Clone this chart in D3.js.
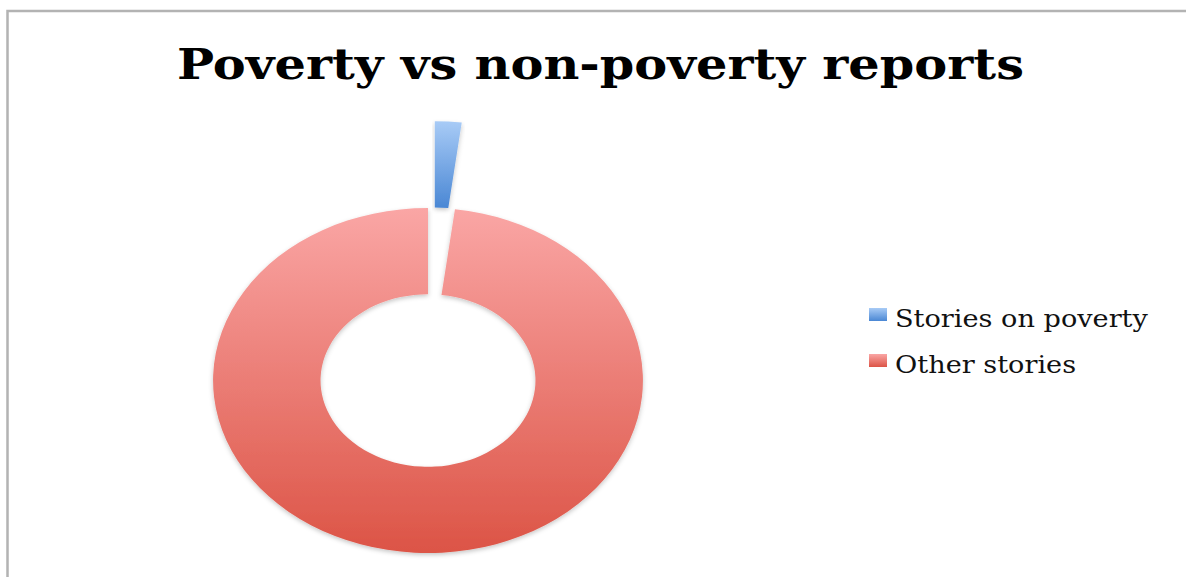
<!DOCTYPE html>
<html>
<head>
<meta charset="utf-8">
<script src="https://cdn.jsdelivr.net/npm/d3@7"></script>
<style>
  html, body { margin: 0; padding: 0; background: #fff; }
  svg { display: block; }
</style>
</head>
<body>
<svg id="chart" width="1186" height="577"></svg>
<script>
// Share of reports (percent)
const categories = ["Stories on poverty", "Other stories"];
const shares = [2, 98];
const chartTitle = "Poverty vs non-poverty reports";

// Gradient stops per category: [top, bottom]
const fills = [
  ["#a8cbf6", "#4a87d4"],
  ["#faa6a5", "#dc5446"]
];

const W = 1186, H = 577;
const svg = d3.select("#chart");
const defs = svg.append("defs");

fills.forEach((f, i) => {
  const g = defs.append("linearGradient")
    .attr("id", "grad" + i)
    .attr("x1", 0).attr("y1", 0).attr("x2", 0).attr("y2", 1);
  g.append("stop").attr("offset", "0%").attr("stop-color", f[0]);
  g.append("stop").attr("offset", "100%").attr("stop-color", f[1]);
});

const shadow = defs.append("filter").attr("id", "shadow")
  .attr("x", "-10%").attr("y", "-10%").attr("width", "120%").attr("height", "120%");
shadow.append("feDropShadow")
  .attr("dx", 0).attr("dy", 2).attr("stdDeviation", 2)
  .attr("flood-color", "#000").attr("flood-opacity", 0.22);

// Frame
svg.append("path")
  .attr("d", `M7.5,${H + 5} L7.5,11 L${W + 5},11`)
  .attr("fill", "none")
  .attr("stroke", "#b3b3b3")
  .attr("stroke-width", 2.5);

// Title, fitted to its width
const title = svg.append("text")
  .attr("x", 0).attr("y", 0)
  .attr("font-family", "'DejaVu Serif', serif")
  .attr("font-weight", "bold")
  .attr("font-size", 42)
  .attr("fill", "#000")
  .text(chartTitle);
const tw = title.node().getComputedTextLength();
const titleWidth = 847;
title.attr("transform", `translate(177,79) scale(${titleWidth / tw},1)`);

// Donut (the plot is drawn wider than tall)
const cx = 428, cy = 380.5;
const R = 172.5, r = 86.25;
const stretch = 1.246;
const explode = 87;

const pie = d3.pie().sort(null).value(d => d)(shares);
const arc = d3.arc().innerRadius(r).outerRadius(R);

const donut = svg.append("g")
  .attr("transform", `translate(${cx},${cy}) scale(${stretch},1)`);

donut.selectAll("path")
  .data(pie)
  .join("path")
  .attr("d", arc)
  .attr("fill", (d, i) => `url(#grad${i})`)
  .attr("filter", "url(#shadow)")
  .attr("transform", (d, i) => {
    if (i !== 0) return null;
    const a = (d.startAngle + d.endAngle) / 2;
    return `translate(${explode * Math.sin(a)},${-explode * Math.cos(a)})`;
  });

// Legend
const legend = svg.append("g");
const rowY = [314.5, 360.5];
categories.forEach((c, i) => {
  legend.append("rect")
    .attr("x", 869).attr("y", rowY[i] - 6.5)
    .attr("width", 18).attr("height", 13)
    .attr("fill", `url(#grad${i})`);
});
const labels = categories.map((c, i) => legend.append("text")
  .attr("font-family", "'DejaVu Serif', serif")
  .attr("font-size", 24)
  .attr("fill", "#111")
  .text(c));
const lw = labels[0].node().getComputedTextLength();
const lsx = 253 / lw;
labels.forEach((t, i) => {
  t.attr("transform", `translate(895,${rowY[i] + 12}) scale(${lsx},1)`);
});
</script>
</body>
</html>
